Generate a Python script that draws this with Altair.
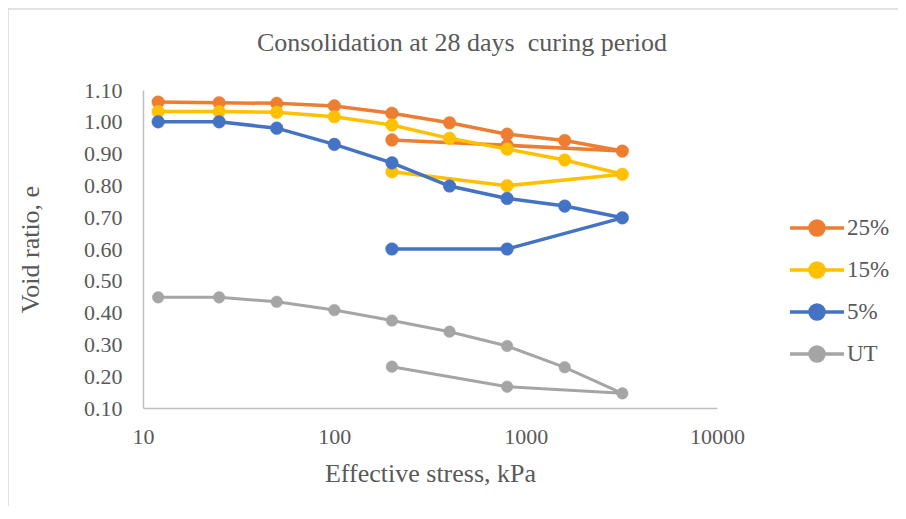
import altair as alt
import pandas as pd

# Effective stress path (loading, then unloading)
stress = [12, 25, 50, 100, 200, 400, 800, 1600, 3200, 800, 200]

void_25 = [1.062, 1.060, 1.058, 1.050, 1.027, 0.997, 0.961, 0.941, 0.908, 0.926, 0.943]
void_15 = [1.032, 1.032, 1.030, 1.016, 0.990, 0.948, 0.914, 0.880, 0.835, 0.799, 0.843]
void_5 = [1.000, 1.000, 0.980, 0.929, 0.871, 0.798, 0.759, 0.735, 0.698, 0.600, 0.600]
void_ut = [0.448, 0.448, 0.434, 0.408, 0.375, 0.340, 0.295, 0.228, 0.146, 0.167, 0.230]

series_names = ["25%", "15%", "5%", "UT"]
series_values = [void_25, void_15, void_5, void_ut]
series_colors = ["#ED7D31", "#FFC000", "#4472C4", "#A5A5A5"]

y_ticks = [0.1, 0.2, 0.3, 0.4, 0.5, 0.6, 0.7, 0.8, 0.9, 1.0, 1.1]
x_ticks = [10, 100, 1000, 10000]

rows = []
for name, vals in zip(series_names, series_values):
    for i, (s, v) in enumerate(zip(stress, vals)):
        rows.append({"series": name, "stress": s, "e": v, "idx": i})
df = pd.DataFrame(rows)

FONT = "Liberation Serif"
TXT = "#595959"

x_enc = alt.X("stress:Q",
              scale=alt.Scale(type="log", domain=[10, 10000], nice=False),
              axis=alt.Axis(values=x_ticks, format="d", title="Effective stress, kPa",
                            grid=False, ticks=False, labelPadding=18, titlePadding=13,
                            labelFlush=False, labelOverlap=False,
                            domainColor="#BFBFBF", domainWidth=1.5))
y_enc = alt.Y("e:Q",
              scale=alt.Scale(domain=[0.1, 1.1], nice=False, zero=False),
              axis=alt.Axis(values=y_ticks, format=".2f", title="Void ratio, e",
                            grid=False, ticks=False, labelPadding=21, titlePadding=40,
                            labelFlush=False,
                            domainColor="#BFBFBF", domainWidth=1.5))

legend_shape = "M-1,0L1,0M0.26,0A0.26,0.26,0,1,1,-0.26,0A0.26,0.26,0,1,1,0.26,0Z"
leg = alt.Legend(title=None, orient="none", legendX=645, legendY=117,
                 symbolType=legend_shape, symbolSize=2916, symbolStrokeWidth=3.5,
                 labelFont=FONT, labelFontSize=23, labelColor=TXT, labelOffset=1,
                 rowPadding=0, clipHeight=42)

fill_scale = alt.Scale(domain=series_names, range=series_colors)

frame = alt.Data(values=[{"k": 0}])
border_left = alt.Chart(frame).mark_rule(color="#D9D9D9", strokeWidth=1.5).encode(
    x=alt.value(-135), y=alt.value(-82), y2=alt.value(420))
border_top = alt.Chart(frame).mark_rule(color="#D9D9D9", strokeWidth=1.5).encode(
    x=alt.value(-135), x2=alt.value(755), y=alt.value(-81))

layers = [border_left, border_top]
for name, color in zip(series_names, series_colors):
    base = alt.Chart(df).transform_filter(alt.datum.series == name)
    line = base.mark_line(strokeWidth=3.5 if name != "UT" else 3, color=color).encode(
        x=x_enc, y=y_enc, order="idx:Q")
    pts = base.mark_point(filled=True, size=160 if name != "UT" else 135, opacity=1,
                          strokeWidth=0.5).encode(
        x=x_enc, y=y_enc,
        fill=alt.Fill("series:N", scale=fill_scale, legend=leg, sort=series_names),
        stroke=alt.Stroke("series:N", scale=fill_scale, legend=leg, sort=series_names))
    layers += [line, pts]

chart = alt.layer(*layers).properties(
    width=574, height=318,
    autosize=alt.AutoSizeParams(type="none"),
    padding={"left": 135, "top": 82, "right": 181, "bottom": 98},
    title=alt.TitleParams("Consolidation at 28 days\u00a0 curing period",
                          font=FONT, fontSize=26, fontWeight="normal", color=TXT,
                          anchor="middle", dx=32, dy=85, offset=36),
).configure_axis(
    labelFont=FONT, labelFontSize=22, labelColor=TXT,
    titleFont=FONT, titleFontSize=26, titleColor=TXT, titleFontWeight="normal",
).configure_view(stroke=None)

chart.save("out.html", embed_options={"renderer": "svg", "actions": False})
